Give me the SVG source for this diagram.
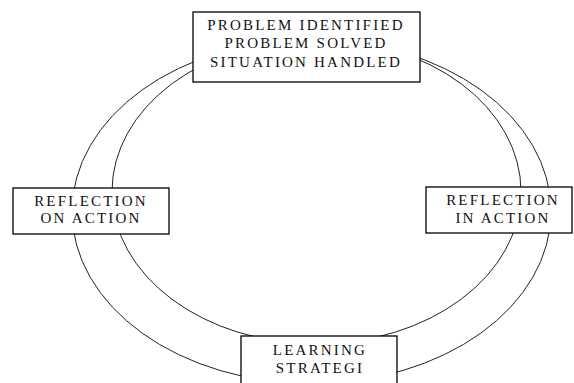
<svg xmlns="http://www.w3.org/2000/svg" width="574" height="383" viewBox="0 0 574 383">
<style>
.c{fill:none;stroke:#222;stroke-width:1}
.b{fill:#fff;stroke:#000;stroke-width:1.3}
.t{font-family:"Liberation Serif",serif;font-size:15px;letter-spacing:2.2px;fill:#111;text-anchor:middle}
</style>
<rect width="574" height="383" fill="#fff"/>
<g id="connectors">
<ellipse class="c" cx="311.5" cy="211.5" rx="239.5" ry="172"/>
<ellipse class="c" cx="316.5" cy="191.5" rx="204.5" ry="152.4"/>
</g>
<g id="top">
<rect class="b" x="193" y="12" width="227" height="70"/>
<text class="t" x="306" y="30">PROBLEM IDENTIFIED</text>
<text class="t" x="306" y="48">PROBLEM SOLVED</text>
<text class="t" x="306" y="67">SITUATION HANDLED</text>
</g>
<g id="left">
<rect class="b" x="13" y="188" width="156" height="46"/>
<text class="t" x="91" y="206">REFLECTION</text>
<text class="t" x="91" y="223">ON ACTION</text>
</g>
<g id="right">
<rect class="b" x="426" y="187" width="146" height="46"/>
<text class="t" x="503" y="205">REFLECTION</text>
<text class="t" x="503" y="223">IN ACTION</text>
</g>
<g id="bottom">
<rect class="b" x="241" y="336" width="156" height="60"/>
<text class="t" x="320" y="355">LEARNING</text>
<text class="t" x="320" y="373">STRATEGI</text>
</g>
</svg>
